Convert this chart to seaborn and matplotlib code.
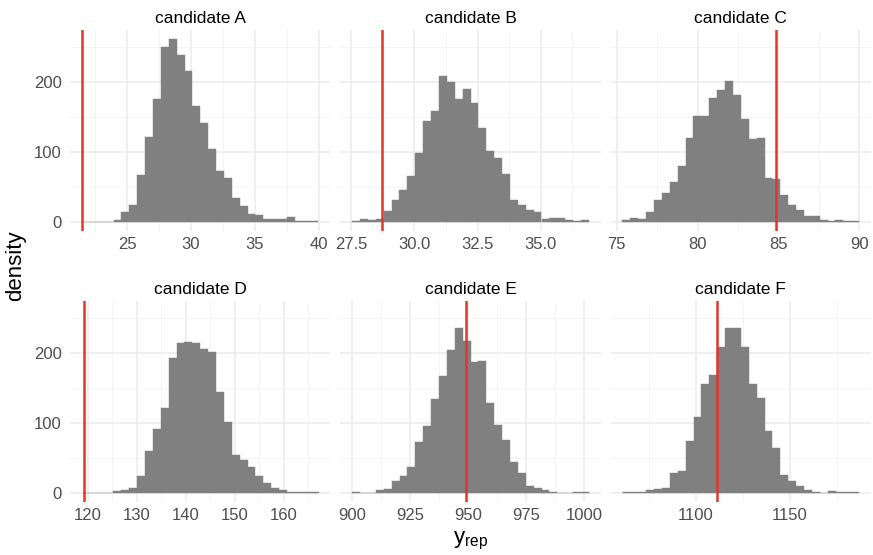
import numpy as np
import pandas as pd
import matplotlib.pyplot as plt
import seaborn as sns

# bin counts (30 bins per panel)
candidates = ["candidate A", "candidate B", "candidate C",
              "candidate D", "candidate E", "candidate F"]
counts_a = [0, 0, 0, 0, 2, 14, 24, 67, 121, 175, 250, 261, 239, 215, 165,
            141, 104, 72, 62, 34, 22, 11, 10, 4, 4, 4, 7, 1, 1, 1]
counts_b = [1, 4, 2, 4, 15, 31, 45, 66, 98, 144, 158, 208, 200, 175, 190,
            170, 134, 101, 91, 69, 31, 24, 17, 14, 4, 5, 5, 2, 1, 2]
counts_c = [2, 5, 4, 14, 31, 41, 57, 80, 120, 151, 151, 177, 188, 201, 181,
            147, 118, 120, 62, 61, 39, 24, 17, 8, 8, 2, 1, 2, 1, 1]
counts_d = [0, 0, 0, 0, 2, 4, 7, 24, 60, 91, 121, 192, 214, 215, 214,
            205, 201, 144, 101, 54, 47, 37, 24, 14, 7, 4, 1, 1, 1, 1]
counts_e = [1, 0, 0, 4, 5, 17, 24, 37, 72, 95, 134, 167, 204, 235, 217,
            187, 188, 128, 97, 76, 44, 28, 10, 7, 4, 1, 0, 0, 1, 1]
counts_f = [1, 1, 1, 4, 5, 7, 28, 31, 74, 109, 156, 169, 209, 236, 236,
            208, 156, 136, 88, 64, 26, 17, 10, 4, 1, 0, 2, 1, 1, 1]
all_counts = [counts_a, counts_b, counts_c, counts_d, counts_e, counts_f]

bin_lo = [21.45, 27.54, 75.35, 118.8, 900.0, 1060.8]
bin_hi = [40.0, 36.9, 90.0, 167.1, 1001.9, 1186.9]
observed = [21.43, 28.72, 84.88, 119.3, 948.9, 1111.3]

x_ticks = [[25, 30, 35, 40], [27.5, 30, 32.5, 35], [75, 80, 85, 90],
           [120, 130, 140, 150, 160], [900, 925, 950, 975, 1000], [1100, 1150]]
x_labels = [["25", "30", "35", "40"], ["27.5", "30.0", "32.5", "35.0"],
            ["75", "80", "85", "90"], ["120", "130", "140", "150", "160"],
            ["900", "925", "950", "975", "1000"], ["1100", "1150"]]
y_ticks = [0, 100, 200]

sns.set_theme(style="whitegrid")
plt.rcParams["font.family"] = ["Liberation Sans", "DejaVu Sans"]
plt.rcParams["mathtext.fontset"] = "custom"
plt.rcParams["mathtext.rm"] = "Liberation Sans"
plt.rcParams["mathtext.default"] = "regular"

W, H = 873, 555
fig = plt.figure(figsize=(W / 100, H / 100), dpi=100)

left0, right0, gap = 70, 871, 10
pw = (right0 - left0 - 2 * gap) / 3
tops = [30, 301]
ph = 201

ymax = max(max(c) for c in all_counts)
ylim = (-0.05 * ymax, 1.05 * ymax)

for i, name in enumerate(candidates):
    r, c = divmod(i, 3)
    lx = left0 + c * (pw + gap)
    ax = fig.add_axes([lx / W, 1 - (tops[r] + ph) / H, pw / W, ph / H])

    edges = np.linspace(bin_lo[i], bin_hi[i], len(all_counts[i]) + 1)
    df = pd.DataFrame({"x": (edges[:-1] + edges[1:]) / 2,
                       "n": np.asarray(all_counts[i], dtype=float)})
    sns.histplot(data=df, x="x", weights="n", bins=edges.tolist(), ax=ax,
                 color="#808080", alpha=1, edgecolor="#808080", linewidth=0.3)
    ax.axvline(observed[i], color="#E0362B", lw=1.8, zorder=5)

    lo = min(bin_lo[i], observed[i])
    hi = max(bin_hi[i], observed[i])
    pad = 0.05 * (hi - lo)
    ax.set_xlim(lo - pad, hi + pad)
    ax.set_ylim(*ylim)

    step = x_ticks[i][1] - x_ticks[i][0]
    minors = np.arange(x_ticks[i][0] - step / 2, x_ticks[i][-1] + step, step)
    minors = [m for m in minors if lo - pad <= m <= hi + pad]
    ax.set_xticks(x_ticks[i])
    ax.set_xticklabels(x_labels[i])
    ax.set_xticks(minors, minor=True)
    ax.set_yticks(y_ticks)
    ax.set_yticks([50, 150, 250], minor=True)
    if c == 0:
        ax.set_yticklabels([str(v) for v in y_ticks])
    else:
        ax.set_yticklabels([])

    ax.set_facecolor("white")
    ax.grid(which="major", color="#EBEBEB", lw=1.1)
    ax.grid(which="minor", color="#F2F2F2", lw=0.6)
    ax.set_axisbelow(True)
    for s in ax.spines.values():
        s.set_visible(False)
    ax.tick_params(axis="both", which="both", length=0, labelsize=12,
                   labelcolor="#4D4D4D")
    ax.tick_params(axis="x", pad=4)
    ax.tick_params(axis="y", pad=6)
    ax.set_xlabel("")
    ax.set_ylabel("")
    ax.set_title(name, fontsize=12.5, color="black", pad=5)

fig.text((left0 + right0) / 2 / W, 1 - 541 / H, r"$\mathregular{y_{rep}}$",
         ha="center", va="center", fontsize=16, color="black")
fig.text(16 / W, 1 - 266 / H, "density", rotation=90,
         ha="center", va="center", fontsize=16, color="black")

fig.savefig("out.png", dpi=100, facecolor="white")
